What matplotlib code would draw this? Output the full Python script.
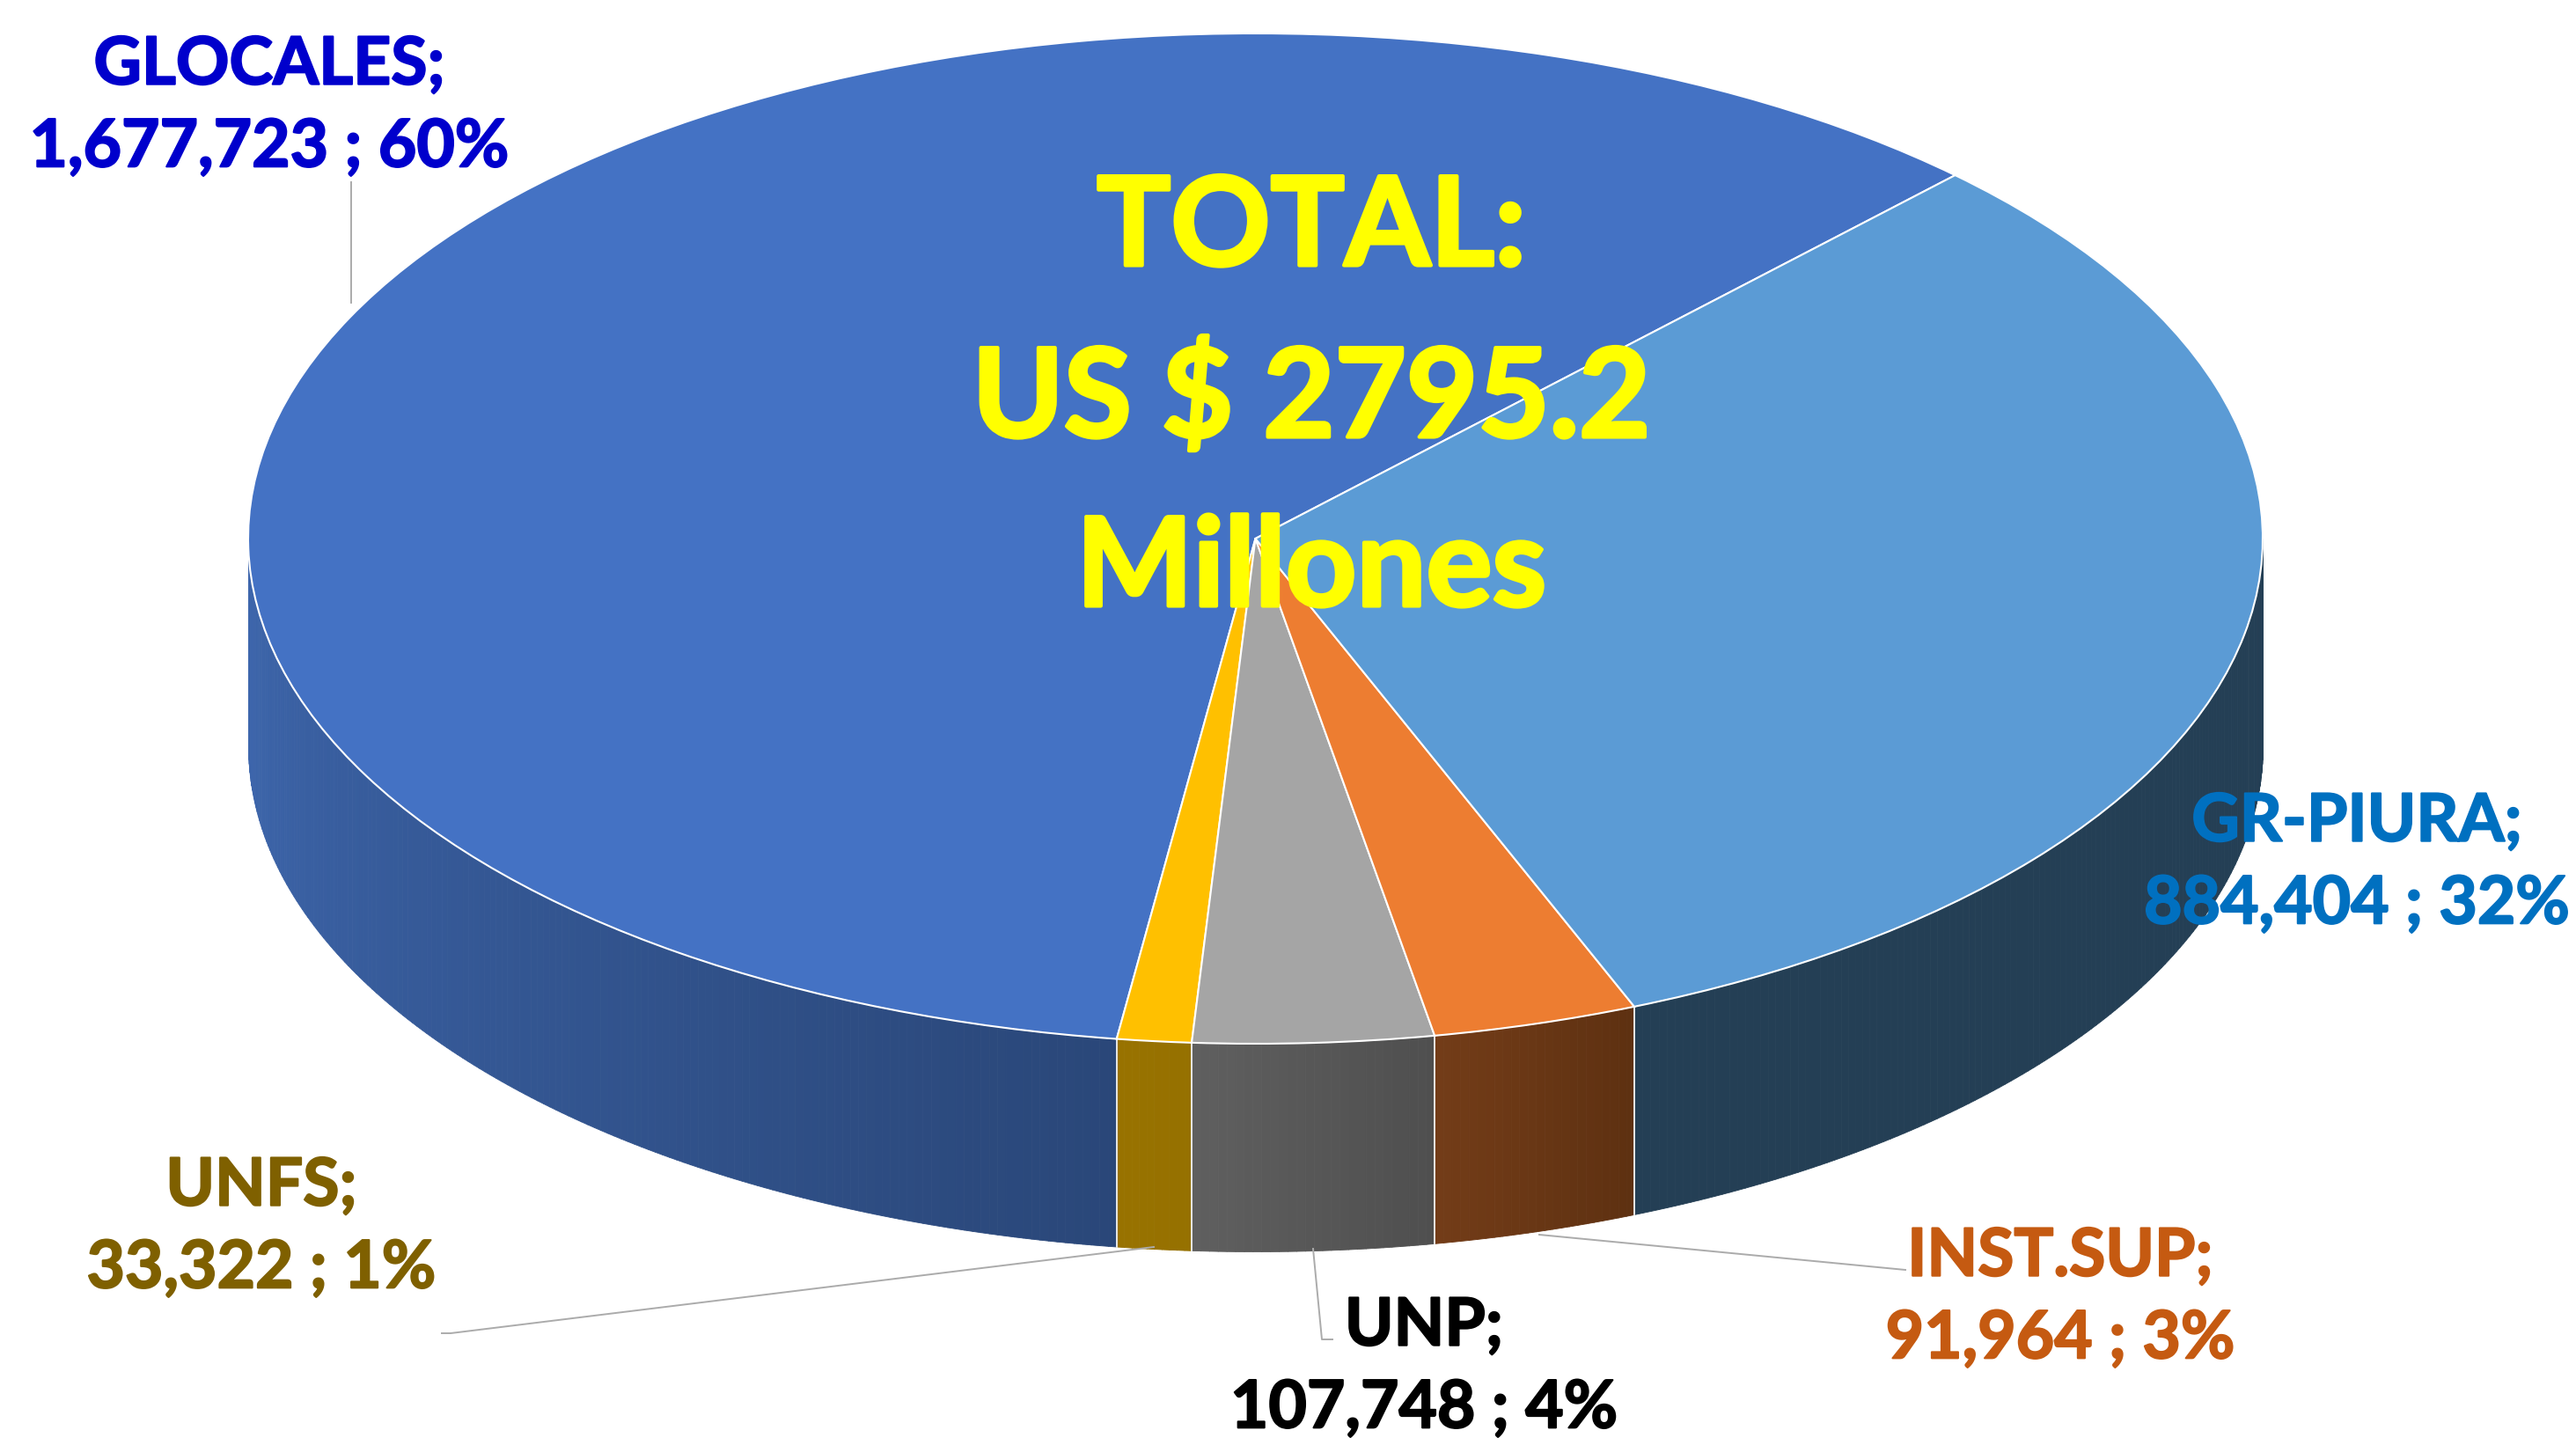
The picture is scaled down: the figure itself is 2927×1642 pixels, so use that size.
from matplotlib import pyplot as plt
from matplotlib import patheffects
from matplotlib.colors import to_rgb
import numpy as np

names = ["GLOCALES", "UNFS", "UNP", "INST.SUP", "GR-PIURA"]
values = [1677723, 33322, 107748, 91964, 884404]
top_colors = ["#4472C4", "#FFC000", "#A5A5A5", "#ED7D31", "#5B9BD5"]
wall_left = ["#3E67AE", "#987200", "#5F5F5F", "#733C18", "#243F55"]
wall_right = ["#2A4779", "#967100", "#4F4F4F", "#5E3111", "#243F55"]
label_colors = ["#0000CC", "#7F6000", "#000000", "#C55A11", "#0070C0"]
title_lines = ["TOTAL:", "US $ 2795.2", "Millones"]

WIDTH, HEIGHT = 2927, 1642
CX, CY = 1426.5, 612  # centre of the top ellipse in pixels
RX, RY = 1144.5, 574
DEPTH = 236 / RY
START_ANGLE = 46

fig = plt.figure(figsize=(WIDTH / 100, HEIGHT / 100), dpi=100)
ax = fig.add_axes([0, 0, 1, 1])

# top face: a normal pie, squashed by letting the axes aspect go free
wedges, _ = ax.pie(
    values,
    colors=top_colors,
    startangle=START_ANGLE,
    wedgeprops={"edgecolor": "white", "linewidth": 1.5, "zorder": 5},
)
ax.set_aspect("auto")
ax.set_xlim(-CX / RX, (WIDTH - CX) / RX)
ax.set_ylim(-(HEIGHT - CY) / RY, CY / RY)

# side wall, only the part of each slice facing the viewer
for wedge, left, right in zip(wedges, wall_left, wall_right):
    lo = max(wedge.theta1, 180)
    hi = min(wedge.theta2, 360)
    if hi <= lo:
        continue
    edges = np.linspace(lo, hi, int(hi - lo) * 2 + 3)
    c0, c1 = np.array(to_rgb(left)), np.array(to_rgb(right))
    for i in range(len(edges) - 1):
        t = np.radians(edges[i : i + 2])
        c = c0 + (c1 - c0) * i / (len(edges) - 2)
        ax.fill_between(
            np.cos(t),
            np.sin(t),
            np.sin(t) - DEPTH,
            color=tuple(c),
            linewidth=0.6,
            zorder=2,
        )
    for angle in (lo, hi):
        if 180 < angle < 360:
            x = np.cos(np.radians(angle))
            y = np.sin(np.radians(angle))
            ax.plot([x, x], [y, y - DEPTH], color="#E8E8E8", linewidth=1.2, zorder=3)

# overlay in pixel coordinates for the labels and leader lines
over = fig.add_axes([0, 0, 1, 1])
over.set_xlim(0, WIDTH)
over.set_ylim(HEIGHT, 0)
over.axis("off")
over.patch.set_alpha(0)

leaders = [
    ([399, 399], [207, 344]),
    ([1311, 512, 502], [1417, 1515, 1515]),
    ([1492, 1502, 1514], [1419, 1522, 1522]),
    ([1749, 2165], [1403, 1443]),
]
for xs, ys in leaders:
    over.plot(xs, ys, color="#ABABAB", linewidth=1.4, zorder=1)

total = sum(values)
label_pos = [(306, 121), (297, 1395), (1618, 1554), (2341, 1475), (2678, 981)]
for name, value, color, (x, y) in zip(names, values, label_colors, label_pos):
    pct = round(value / total * 100)
    txt = over.text(
        x,
        y,
        f"{name};\n{value:,} ; {pct}%",
        color=color,
        family="Lato",
        fontweight="bold",
        fontsize=54,
        ha="center",
        va="center",
        linespacing=1.44,
    )
    txt.set_path_effects([patheffects.withStroke(linewidth=1.5, foreground=color)])

for line, y in zip(title_lines, [261, 454, 648]):
    txt = over.text(
        1490,
        y,
        line,
        color="#FFFF00",
        family="Lato",
        fontweight="bold",
        fontsize=101,
        ha="center",
        va="center",
    )
    txt.set_path_effects([patheffects.withStroke(linewidth=3, foreground="#FFFF00")])

fig.savefig("out.png", dpi=100)
